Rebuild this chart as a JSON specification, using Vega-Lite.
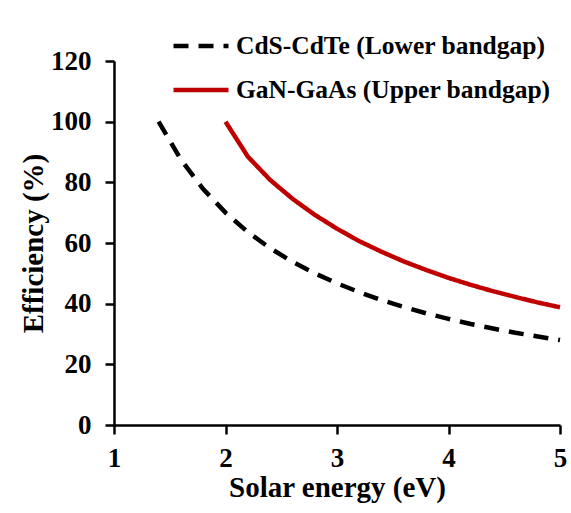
{
  "$schema": "https://vega.github.io/schema/vega-lite/v6.json",
  "autosize": "none",
  "padding": {"left": 114, "top": 61, "right": 11, "bottom": 88},
  "width": 446,
  "height": 364,
  "background": "white",
  "config": {
    "view": {"stroke": null},
    "font": "Liberation Serif",
    "axis": {
      "grid": false,
      "domainColor": "black",
      "domainWidth": 2.5,
      "tickColor": "black",
      "tickWidth": 2.5,
      "tickSize": 9,
      "labelFont": "Liberation Serif",
      "labelFontWeight": "bold",
      "labelFontSize": 27,
      "labelColor": "black",
      "titleFont": "Liberation Serif",
      "titleFontWeight": "bold",
      "titleFontSize": 29,
      "titleColor": "black"
    }
  },
  "data": {
    "values": [
      {"energy": 1.4, "eff": 100, "series": "CdS-CdTe (Lower bandgap)"},
      {"energy": 1.6, "eff": 87.5, "series": "CdS-CdTe (Lower bandgap)"},
      {"energy": 1.8, "eff": 77.8, "series": "CdS-CdTe (Lower bandgap)"},
      {"energy": 2.0, "eff": 70, "series": "CdS-CdTe (Lower bandgap)"},
      {"energy": 2.2, "eff": 63.6, "series": "CdS-CdTe (Lower bandgap)"},
      {"energy": 2.4, "eff": 58.3, "series": "CdS-CdTe (Lower bandgap)"},
      {"energy": 2.6, "eff": 53.8, "series": "CdS-CdTe (Lower bandgap)"},
      {"energy": 2.8, "eff": 50, "series": "CdS-CdTe (Lower bandgap)"},
      {"energy": 3.0, "eff": 46.7, "series": "CdS-CdTe (Lower bandgap)"},
      {"energy": 3.2, "eff": 43.8, "series": "CdS-CdTe (Lower bandgap)"},
      {"energy": 3.4, "eff": 41.2, "series": "CdS-CdTe (Lower bandgap)"},
      {"energy": 3.6, "eff": 38.9, "series": "CdS-CdTe (Lower bandgap)"},
      {"energy": 3.8, "eff": 36.8, "series": "CdS-CdTe (Lower bandgap)"},
      {"energy": 4.0, "eff": 35, "series": "CdS-CdTe (Lower bandgap)"},
      {"energy": 4.2, "eff": 33.3, "series": "CdS-CdTe (Lower bandgap)"},
      {"energy": 4.4, "eff": 31.8, "series": "CdS-CdTe (Lower bandgap)"},
      {"energy": 4.6, "eff": 30.4, "series": "CdS-CdTe (Lower bandgap)"},
      {"energy": 4.8, "eff": 29.2, "series": "CdS-CdTe (Lower bandgap)"},
      {"energy": 5.0, "eff": 28, "series": "CdS-CdTe (Lower bandgap)"},
      {"energy": 2.0, "eff": 100, "series": "GaN-GaAs (Upper bandgap)"},
      {"energy": 2.2, "eff": 88.5, "series": "GaN-GaAs (Upper bandgap)"},
      {"energy": 2.4, "eff": 80.8, "series": "GaN-GaAs (Upper bandgap)"},
      {"energy": 2.6, "eff": 74.6, "series": "GaN-GaAs (Upper bandgap)"},
      {"energy": 2.8, "eff": 69.3, "series": "GaN-GaAs (Upper bandgap)"},
      {"energy": 3.0, "eff": 64.7, "series": "GaN-GaAs (Upper bandgap)"},
      {"energy": 3.2, "eff": 60.6, "series": "GaN-GaAs (Upper bandgap)"},
      {"energy": 3.4, "eff": 57.1, "series": "GaN-GaAs (Upper bandgap)"},
      {"energy": 3.6, "eff": 53.9, "series": "GaN-GaAs (Upper bandgap)"},
      {"energy": 3.8, "eff": 51.1, "series": "GaN-GaAs (Upper bandgap)"},
      {"energy": 4.0, "eff": 48.5, "series": "GaN-GaAs (Upper bandgap)"},
      {"energy": 4.2, "eff": 46.2, "series": "GaN-GaAs (Upper bandgap)"},
      {"energy": 4.4, "eff": 44.1, "series": "GaN-GaAs (Upper bandgap)"},
      {"energy": 4.6, "eff": 42.2, "series": "GaN-GaAs (Upper bandgap)"},
      {"energy": 4.8, "eff": 40.4, "series": "GaN-GaAs (Upper bandgap)"},
      {"energy": 5.0, "eff": 38.8, "series": "GaN-GaAs (Upper bandgap)"}
    ]
  },
  "mark": {"type": "line", "strokeWidth": 4.5, "clip": false},
  "encoding": {
    "x": {
      "field": "energy",
      "type": "quantitative",
      "title": "Solar energy (eV)",
      "scale": {"domain": [1, 5], "nice": false, "zero": false},
      "axis": {"values": [1, 2, 3, 4, 5], "format": "d", "labelPadding": 11, "titlePadding": 2, "labelFlush": false}
    },
    "y": {
      "field": "eff",
      "type": "quantitative",
      "title": "Efficiency (%)",
      "scale": {"domain": [0, 120], "nice": false},
      "axis": {"values": [0, 20, 40, 60, 80, 100, 120], "labelPadding": 14, "titlePadding": 2, "labelFlush": false}
    },
    "color": {
      "field": "series",
      "type": "nominal",
      "title": null,
      "scale": {"domain": ["CdS-CdTe (Lower bandgap)", "GaN-GaAs (Upper bandgap)"], "range": ["black", "#c00000"]},
      "legend": {
        "orient": "none",
        "legendX": 57,
        "legendY": -45,
        "padding": 0,
        "symbolType": "stroke",
        "symbolSize": 3025,
        "symbolStrokeWidth": 4.5,
        "labelFont": "Liberation Serif",
        "labelFontWeight": "bold",
        "labelFontSize": 25.5,
        "labelColor": "black",
        "labelOffset": 5,
        "rowPadding": -11,
        "labelLimit": 400
      }
    },
    "strokeDash": {
      "field": "series",
      "type": "nominal",
      "title": null,
      "scale": {"domain": ["CdS-CdTe (Lower bandgap)", "GaN-GaAs (Upper bandgap)"], "range": [[15, 10], [1, 0]]}
    }
  }
}
